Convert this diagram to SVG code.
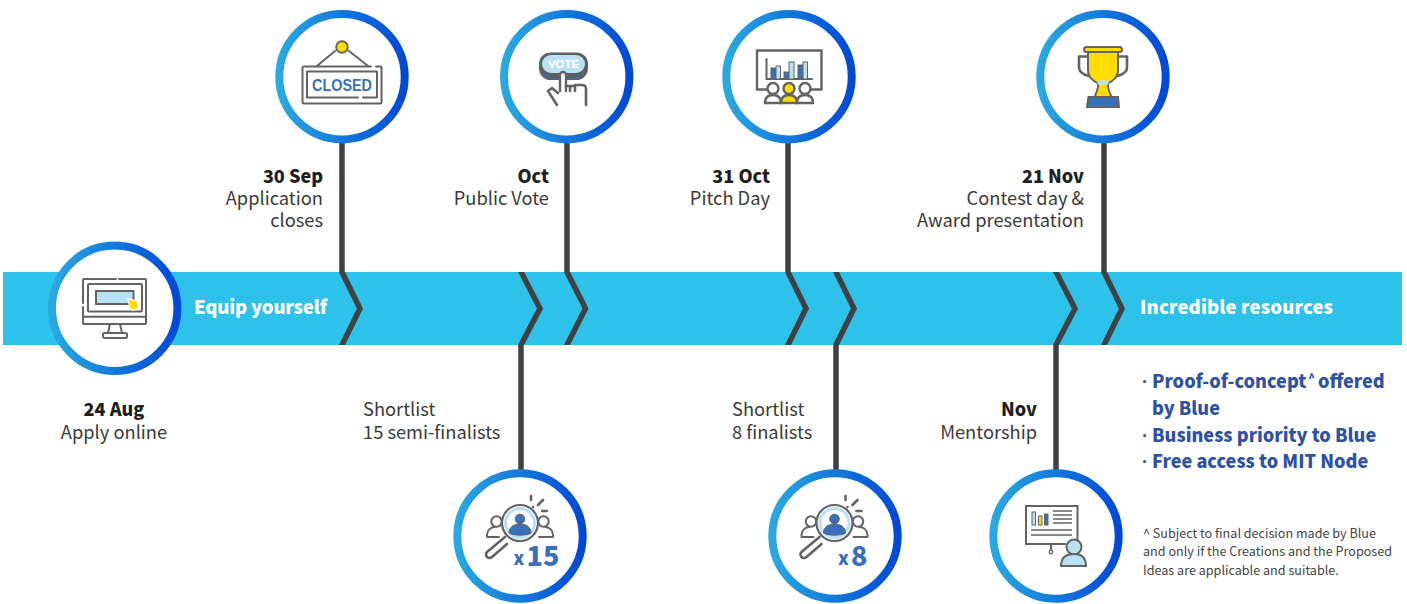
<svg xmlns="http://www.w3.org/2000/svg" width="1407" height="604" viewBox="0 0 1407 604">
<style>
text{font-family:"Noto Sans CJK SC","Noto Sans CJK JP","Noto Sans",sans-serif;fill:#333}
.b{font-weight:900;fill:#1f1f1f;font-size:18px}
.r{font-size:18.300px;fill:#3a3a3a}
.e{text-anchor:end}
.m{text-anchor:middle}
.w{font-weight:900;font-size:18.500px;fill:#fff}
.l{font-weight:900;font-size:18.100px;fill:#2f52a0}
.d{font-family:"Liberation Sans",sans-serif;font-weight:700}
.s{font-size:12.600px;fill:#444}
.ring{fill:#fff;stroke:url(#rg);stroke-width:8}
.c{fill:none;stroke:#414042;stroke-width:5.500;stroke-linejoin:miter}
.i{fill:none;stroke:#636363;stroke-width:2;stroke-linecap:round;stroke-linejoin:round}
.i2{fill:none;stroke:#636363;stroke-width:2.600;stroke-linecap:round;stroke-linejoin:round}
.lb{fill:#b8e2f4}.y{fill:#ffdd00}.bl{fill:#3a70ba}
.x{font-weight:900;fill:#3a70ba}
</style>
<defs>
<linearGradient id="rg" x1="0" y1="0" x2="1" y2="0"><stop offset="0" stop-color="#29a9e1"/><stop offset="1" stop-color="#0049d6"/></linearGradient>
<clipPath id="above" clipPathUnits="userSpaceOnUse"><rect x="0" y="0" width="1407" height="345"/></clipPath>
<clipPath id="below" clipPathUnits="userSpaceOnUse"><rect x="0" y="272" width="1407" height="332"/></clipPath>
<g id="seek">
<circle cx="-23.500" cy="-11.500" r="5.200" class="i"/>
<circle cx="23.500" cy="-11.500" r="5.200" class="i"/>
<path class="i" d="M-33 4v-2c0-5 4-8 8-8M-33 4h12M33 4v-2c0-5-4-8-8-8M33 4h-14"/>
<circle cx="0" cy="-10" r="18" fill="#fff" stroke="#636363" stroke-width="2.200"/>
<circle cx="0" cy="-10" r="14.500" fill="#fff" stroke="#b8e2f4" stroke-width="3"/>
<circle cx="0" cy="-14" r="4.800" class="bl" stroke="#636363" stroke-width="1"/>
<path class="bl" stroke="#636363" stroke-width="1" d="M-11 0c0-6 5-9 11-9s11 3 11 9c-5 3-17 3-22 0z"/>
<path class="i2" d="M-15 4L-33 19a3.200 3.200 0 0 0 5 5L-13 11"/>
<path class="i2" d="M11 -37v4M23 -33l-5 5M22 -22h5M13 -26v.1"/>
</g>
</defs>

<rect id="band" x="3" y="272" width="1399" height="73" fill="#2dc2e9"/>

<g id="connectors">
<path class="c" clip-path="url(#above)" d="M342 140V272L360 308.500L340 349"/>
<path class="c" clip-path="url(#below)" d="M519 268L540 308.500L521 345V472"/>
<path class="c" clip-path="url(#above)" d="M567 140V272L585.500 308.500L565 349"/>
<path class="c" clip-path="url(#above)" d="M788 140V272L806 308.500L786 349"/>
<path class="c" clip-path="url(#below)" d="M834 268L854 308.500L836 345V472"/>
<path class="c" clip-path="url(#below)" d="M1054 268L1075 308.500L1056 345V472"/>
<path class="c" clip-path="url(#above)" d="M1104 140V272L1122 308.500L1102 349"/>
</g>

<g id="node-apply">
<circle class="ring" cx="114.700" cy="308.300" r="62.700"/>
<path class="i" d="M119 279H145q1 0 1 1v43q0 1-1 1H84q-1 0-1-1V307M83 303V280q0-1 1-1H116"/>
<rect x="88" y="284" width="54" height="27.500" fill="none" stroke="#636363" stroke-width="2" rx="1"/>
<path class="i" d="M83 316.700H146"/>
<rect x="96" y="291" width="37.500" height="13" class="lb" stroke="#636363" stroke-width="2"/>
<path class="y" d="M128 298.500l10 3v6.500l-5 2.500-3-2z" stroke="#fff" stroke-width="1.200"/>
<path class="i" d="M110 324l-2 9M120 324l2 9"/>
<rect x="103" y="333" width="24" height="5" rx="1.500" class="i"/>
</g>
<text class="w" x="194" y="314" textLength="133">Equip yourself</text>
<text class="b m" x="114" y="416">24 Aug</text>
<text class="r m" x="114" y="439">Apply online</text>

<g id="node-closed">
<circle class="ring" cx="342" cy="76.700" r="62.700"/>
<path class="i" d="M335 51L317 66M349 51L368 66"/>
<circle cx="342" cy="47" r="5.800" class="y" stroke="#636363" stroke-width="2"/>
<path class="i" d="M376 66.500H380q1.500 0 1.500 1.500v34q0 1.500-1.500 1.500H304q-1.500 0-1.500-1.500V68q0-1.500 1.500-1.500H371"/>
<path class="i" d="M307 71.500V97.500H358M363 97.500H377V71.500H307"/>
<text x="312" y="90.500" textLength="60" lengthAdjust="spacingAndGlyphs" font-size="16" font-weight="700" style="fill:#3a70ba;font-family:'Liberation Sans',sans-serif">CLOSED</text>
</g>
<text class="b e" x="323" y="183">30 Sep</text>
<text class="r e" x="323" y="205">Application</text>
<text class="r e" x="323" y="227">closes</text>

<g id="node-vote">
<circle class="ring" cx="566.700" cy="76.700" r="62.700"/>
<rect x="539" y="52.500" width="49" height="27.500" rx="11.500" fill="#5f5f5f"/>
<path d="M544 72q4 6 10 6h20q6 0 10-6v3q-4 4-10 4H554q-6 0-10-4z" class="bl"/>
<rect x="542" y="55" width="43" height="18" rx="9" class="lb"/>
<text x="548" y="68" textLength="31" lengthAdjust="spacingAndGlyphs" font-size="11" font-weight="700" style="fill:#fff;font-family:'Liberation Sans',sans-serif">VOTE</text>
<path d="M560 91V75a3 3 0 0 1 6 0v16" fill="#fff" stroke="#636363" stroke-width="2.400" stroke-linecap="round"/>
<path class="i2" d="M558 93l-6-5-4 3 9 14M566 86h4v5M570 86h5v5M575 85h7q4 0 4 4v16"/>
</g>
<text class="b e" x="549" y="183">Oct</text>
<text class="r e" x="549" y="205">Public Vote</text>

<g id="node-pitch">
<circle class="ring" cx="789" cy="76.700" r="62.700"/>
<path fill="none" stroke="#636363" stroke-width="2.400" d="M768 89.500H757V50.500H821.500V89.500H811"/>
<path class="i" d="M766.500 59V79H812"/>
<rect x="771" y="68" width="4.500" height="11" class="bl" stroke="#636363" stroke-width="1"/>
<rect x="776" y="66" width="4.500" height="13" class="lb" stroke="#636363" stroke-width="1"/>
<rect x="784" y="72" width="4.500" height="7" class="bl" stroke="#636363" stroke-width="1"/>
<rect x="789" y="62" width="5" height="17" class="lb" stroke="#636363" stroke-width="1"/>
<rect x="798" y="65" width="4.500" height="14" class="bl" stroke="#636363" stroke-width="1"/>
<rect x="803" y="62" width="4.500" height="17" class="lb" stroke="#636363" stroke-width="1"/>
<g stroke="#636363" stroke-width="2.400" fill="#fff">
<circle cx="773" cy="88.500" r="5.500"/><path d="M765 103c0-6 3-8 8-8s8 2 8 8z"/>
<circle cx="805" cy="88.500" r="5.500"/><path d="M797 103c0-6 3-8 8-8s8 2 8 8z"/>
<circle cx="789" cy="88.500" r="5.500" fill="#ffdd00"/><path fill="#ffdd00" d="M781 103c0-6 3-8 8-8s8 2 8 8z"/>
</g>
</g>
<text class="b e" x="770" y="183">31 Oct</text>
<text class="r e" x="770" y="205">Pitch Day</text>

<g id="node-trophy">
<circle class="ring" cx="1103" cy="76.700" r="62.700"/>
<path class="i2" d="M1088 56.500h-9v11q0 6 10 8.500M1118 56.500h9v11q0 6-10 8.500"/>
<path class="y" stroke="#636363" stroke-width="2" d="M1088 50H1118V70q0 7-6 11l-4 2.500q-1 5 6 18.500H1092q7-13 6-18.500l-4-2.500q-6-4-6-11z"/>
<rect x="1084" y="47" width="38" height="5" rx="2.500" class="y" stroke="#636363" stroke-width="2"/>
<rect x="1097.500" y="80.500" width="11" height="4" class="lb"/>
<path class="bl" stroke="#636363" stroke-width="2" d="M1088.500 97H1118L1119 107H1087z"/>
</g>
<text class="b e" x="1084" y="183">21 Nov</text>
<text class="r e" x="1084" y="205">Contest day &amp;</text>
<text class="r e" x="1084" y="227">Award presentation</text>

<g id="node-shortlist15">
<circle class="ring" cx="520" cy="536" r="62.700"/>
<use href="#seek" x="520" y="533"/>
<text class="x" x="513.500" y="565" font-size="18">x</text>
<text class="x" x="526.500" y="566" font-size="27">15</text>
</g>
<text class="r" x="363" y="416">Shortlist</text>
<text class="r" x="363" y="439">15 semi-finalists</text>

<g id="node-shortlist8">
<circle class="ring" cx="835" cy="536" r="62.700"/>
<use href="#seek" x="834.500" y="533"/>
<text class="x" x="838" y="565" font-size="18">x</text>
<text class="x" x="851" y="566" font-size="27">8</text>
</g>
<text class="r" x="732" y="416">Shortlist</text>
<text class="r" x="732" y="439">8 finalists</text>

<g id="node-mentorship">
<circle class="ring" cx="1056" cy="536" r="62.700"/>
<path fill="none" stroke="#636363" stroke-width="2" d="M1066 544H1026V506H1077.500V540"/>
<rect x="1032" y="512" width="3.500" height="13" class="lb" stroke="#636363" stroke-width="1"/>
<rect x="1038.500" y="516" width="3.500" height="9" class="y" stroke="#636363" stroke-width="1"/>
<rect x="1044.500" y="514" width="3.500" height="11" class="bl" stroke="#636363" stroke-width="1"/>
<path fill="none" stroke="#636363" stroke-width="1.500" d="M1053 511H1072M1053 515H1072M1053 519H1072M1053 523H1072M1031 530H1072M1031 535H1072"/>
<path class="i" d="M1051 544V550"/><circle cx="1051" cy="552" r="1.800" fill="#fff" stroke="#636363" stroke-width="1.300"/>
<circle cx="1074" cy="547" r="7.500" class="lb" stroke="#636363" stroke-width="2"/>
<path class="lb" stroke="#636363" stroke-width="2" d="M1061 566c0-8 5-12 13-12s12 4 12 12z"/>
</g>
<text class="b e" x="1037" y="416">Nov</text>
<text class="r e" x="1037" y="439">Mentorship</text>

<text class="w" x="1140" y="314" textLength="193">Incredible resources</text>

<g id="benefits">
<text class="l" y="388"><tspan class="d" x="1142">·</tspan><tspan x="1152">Proof-of-concept</tspan><tspan font-size="11" dy="-6" dx="2">^</tspan><tspan dy="6" dx="3">offered</tspan></text>
<text class="l" x="1152" y="415">by Blue</text>
<text class="l" y="442"><tspan class="d" x="1142">·</tspan><tspan x="1152">Business priority to Blue</tspan></text>
<text class="l" y="468"><tspan class="d" x="1142">·</tspan><tspan x="1152">Free access to MIT Node</tspan></text>
</g>
<text class="s" x="1143" y="538">^ Subject to final decision made by Blue</text>
<text class="s" x="1143" y="556">and only if the Creations and the Proposed</text>
<text class="s" x="1143" y="575">Ideas are applicable and suitable.</text>
</svg>
